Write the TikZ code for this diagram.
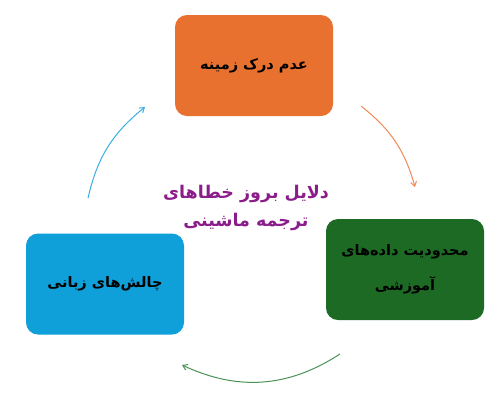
\documentclass[tikz,border=0pt]{standalone}
\usepackage{fontspec}
\usetikzlibrary{arrows.meta}
\TeXXeTstate=1
\newfontfamily\arabicfont[Script=Arabic]{DejaVu Sans}
\definecolor{boxorange}{HTML}{E9712F}
\definecolor{boxgreen}{HTML}{1C6A24}
\definecolor{boxblue}{HTML}{0F9FD9}
\definecolor{titlepurple}{HTML}{8A1D8A}
\definecolor{arrorange}{HTML}{EF8A55}
\definecolor{arrgreen}{HTML}{4A9254}
\definecolor{arrblue}{HTML}{3AAEDF}
\tikzset{
  cyclebox/.style={rounded corners=12pt, minimum width=158pt, minimum height=101pt, inner sep=0pt, align=center,
    font=\arabicfont\bfseries\fontsize{14.5}{35}\selectfont, text=black},
  cyclearrow/.style={line width=1pt, -{Straight Barb[length=4.5pt,width=6pt]}},
  titletext/.style={align=center, text=titlepurple, font=\arabicfont\bfseries\fontsize{17.5}{28}\selectfont}
}
\begin{document}
\begin{tikzpicture}[x=1pt,y=-1pt]
\useasboundingbox (0,0) rectangle (500,408);
\node[cyclebox, fill=boxorange] (top) at (254,65.5) {\beginR عدم درک زمینه\endR};
\node[cyclebox, fill=boxgreen] (right) at (405,269.5) {\beginR محدودیت داده^^^^200cهای\endR\\\beginR آموزشی\endR};
\node[cyclebox, fill=boxblue] (left) at (105,284) {\beginR چالش^^^^200cهای زبانی\endR};
\node[titletext] (title) at (246,208) {\beginR دلایل بروز خطاهای\endR\\\beginR ترجمه ماشینی\endR};
\coordinate (o1) at (361,106);
\coordinate (o2) at (415,187);
\coordinate (g1) at (340,354);
\coordinate (g2) at (182,365);
\coordinate (b1) at (88,198);
\coordinate (b2) at (145,107);
\draw[cyclearrow, arrorange] (o1) to[bend left=18] (o2);
\draw[cyclearrow, arrgreen] (g1) to[bend left=29] (g2);
\draw[cyclearrow, arrblue] (b1) to[bend left=19] (b2);
\end{tikzpicture}
\end{document}
